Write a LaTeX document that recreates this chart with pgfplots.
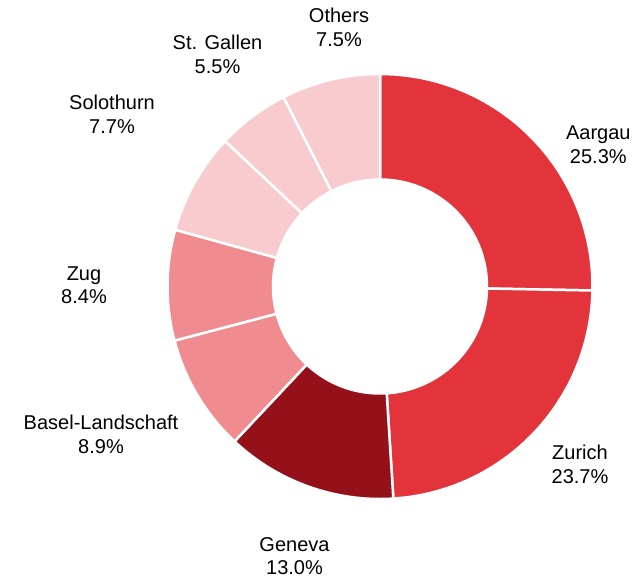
\documentclass[border=0pt]{standalone}
\usepackage{pgfplots}
\pgfplotsset{compat=1.18}
\usepackage{fontspec}
\setmainfont{Liberation Sans}
\definecolor{cA}{RGB}{227,51,59}
\definecolor{cG}{RGB}{149,17,26}
\definecolor{cB}{RGB}{240,140,143}
\definecolor{cP}{RGB}{248,203,206}
\def\cx{380}\def\cy{292.5}\def\Ro{212.5}\def\Ri{107}
\tikzset{lab/.style={anchor=base, font=\fontsize{20bp}{24bp}\selectfont, text=black, inner sep=0pt}}
\begin{document}
\begin{tikzpicture}
\begin{axis}[scale only axis, width=640bp, height=579bp,
  xmin=0, xmax=640, ymin=0, ymax=579,
  axis line style={draw=none}, ticks=none, clip=false]
\gdef\cum{0}
\foreach \p/\c in {25.3/cA, 23.7/cA, 13.0/cG, 8.9/cB, 8.4/cB, 7.7/cP, 5.5/cP, 7.5/cP}{
  \pgfmathsetmacro\aone{90-3.6*\cum}
  \pgfmathsetmacro\atwo{90-3.6*(\cum+\p)}
  \pgfmathsetmacro\newcum{\cum+\p}
  \xdef\cum{\newcum}
  \edef\temp{\noexpand\addplot[fill=\c, draw=white, line width=2.5pt,
     samples at={0,0.02,...,0.98,1,1.00001,1.02,...,1.98,2}]
     ({\cx+((\noexpand\x<=1) ? \Ro : \Ri)*cos(((\noexpand\x<=1) ? (\aone+(\atwo-\aone)*\noexpand\x) : (\atwo-(\atwo-\aone)*(\noexpand\x-1))))},
      {\cy+((\noexpand\x<=1) ? \Ro : \Ri)*sin(((\noexpand\x<=1) ? (\aone+(\atwo-\aone)*\noexpand\x) : (\atwo-(\atwo-\aone)*(\noexpand\x-1))))}) -- cycle;}
  \temp
}
% labels: x, first baseline, second baseline
\node[lab] at (axis cs:598.3,439) {Aargau};
\node[lab] at (axis cs:598.3,415) {25.3\%};
\node[lab] at (axis cs:580,120) {Zurich};
\node[lab] at (axis cs:580,96) {23.7\%};
\node[lab] at (axis cs:294.5,28) {Geneva};
\node[lab] at (axis cs:294.5,5) {13.0\%};
\node[lab] at (axis cs:101,150) {Basel-Landschaft};
\node[lab] at (axis cs:101,126) {8.9\%};
\node[lab] at (axis cs:84,298) {Zug};
\node[lab] at (axis cs:84,275) {8.4\%};
\node[lab] at (axis cs:112,469) {Solothurn};
\node[lab] at (axis cs:112,445) {7.7\%};
\node[lab] at (axis cs:217.5,529) {St. Gallen};
\node[lab] at (axis cs:217.5,505) {5.5\%};
\node[lab] at (axis cs:339,556) {Others};
\node[lab] at (axis cs:339,532) {7.5\%};
\end{axis}
\end{tikzpicture}
\end{document}
